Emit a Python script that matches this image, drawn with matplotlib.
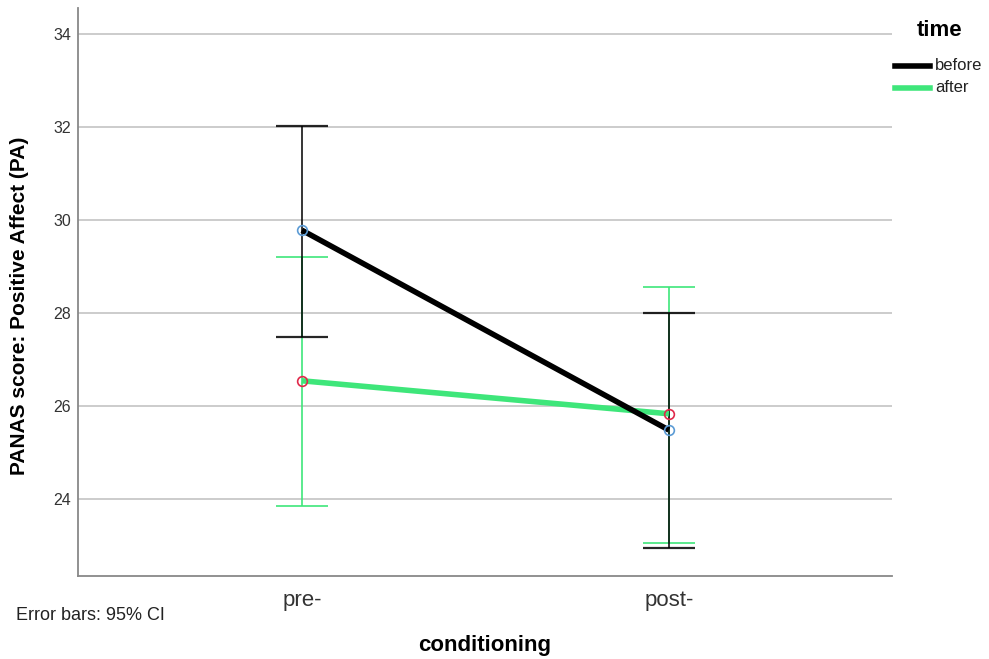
import matplotlib
matplotlib.use("Agg")
import matplotlib.pyplot as plt
from matplotlib.lines import Line2D

plt.rcParams['font.family'] = ['Liberation Sans', 'DejaVu Sans']

categories = ["pre-", "post-"]
before_mean = [29.78, 25.48]
before_lo = [27.48, 22.94]
before_hi = [32.02, 28.00]
after_mean = [26.54, 25.83]
after_lo = [23.85, 23.05]
after_hi = [29.21, 28.56]
yticks = [24, 26, 28, 30, 32, 34]
series_names = ["before", "after"]

W, H = 989, 659
fig = plt.figure(figsize=(W/100, H/100), dpi=100)
ax = fig.add_axes([78/W, 1-576/H, (892-78)/W, (576-8)/H])

x = list(range(len(categories)))
green = "#3ee67a"
black = "#000000"

ax.errorbar(x, after_mean,
            yerr=[[m - l for m, l in zip(after_mean, after_lo)],
                  [h - m for m, h in zip(after_mean, after_hi)]],
            fmt="none", ecolor=green, elinewidth=1.2, capsize=19, capthick=1.2, zorder=3)
ax.errorbar(x, before_mean,
            yerr=[[m - l for m, l in zip(before_mean, before_lo)],
                  [h - m for m, h in zip(before_mean, before_hi)]],
            fmt="none", ecolor=black, elinewidth=1.3, capsize=19, capthick=1.6, alpha=0.85, zorder=4)

ax.plot(x, after_mean, color=green, lw=4, zorder=5, solid_capstyle="butt")
ax.plot(x, before_mean, color=black, lw=4, zorder=6, solid_capstyle="butt")
ax.plot(x, after_mean, 'o', ms=7, mfc="none", mec="#e0294a", mew=1.2, zorder=7)
ax.plot(x, before_mean, 'o', ms=7, mfc="none", mec="#5b9bd5", mew=1.2, zorder=7)

ax.set_xlim(-0.61, 1.608)
ax.set_ylim(22.34, 34.56)
ax.set_xticks(x)
ax.set_xticklabels(categories, fontsize=16, color="#333333")
ax.set_yticks(yticks)
ax.set_yticklabels([str(t) for t in yticks], fontsize=11.5, color="#333333")
ax.tick_params(axis='y', length=0, pad=5)
ax.tick_params(axis='x', length=0, pad=10)
ax.yaxis.grid(True, color="#c8c8c8", lw=1.3)
ax.set_axisbelow(True)
for s in ["top", "right"]:
    ax.spines[s].set_visible(False)
for s in ["left", "bottom"]:
    ax.spines[s].set_color("#888888")
    ax.spines[s].set_linewidth(1.3)

fig.text(20/W, 1-306/H, "PANAS score: Positive Affect (PA)", fontsize=15, fontweight="bold",
         rotation=90, ha="center", va="center")
fig.text(485/W, 1-645/H, "conditioning", fontsize=16, fontweight="bold", ha="center", va="center")
fig.text(16/W, 1-616/H, "Error bars: 95% CI", fontsize=13, ha="left", va="center", color="#222222")

# legend
fig.text(940/W, 1-30/H, "time", fontsize=16, fontweight="bold", ha="center", va="center")
for name, col, yy in zip(series_names, [black, green], [66, 88]):
    fig.add_artist(Line2D([895/W, 930/W], [1-yy/H, 1-yy/H], color=col, lw=4,
                          transform=fig.transFigure))
    fig.text(935/W, 1-yy/H, name, fontsize=12, ha="left", va="center", color="#222222")

fig.savefig("out.png", dpi=100)
